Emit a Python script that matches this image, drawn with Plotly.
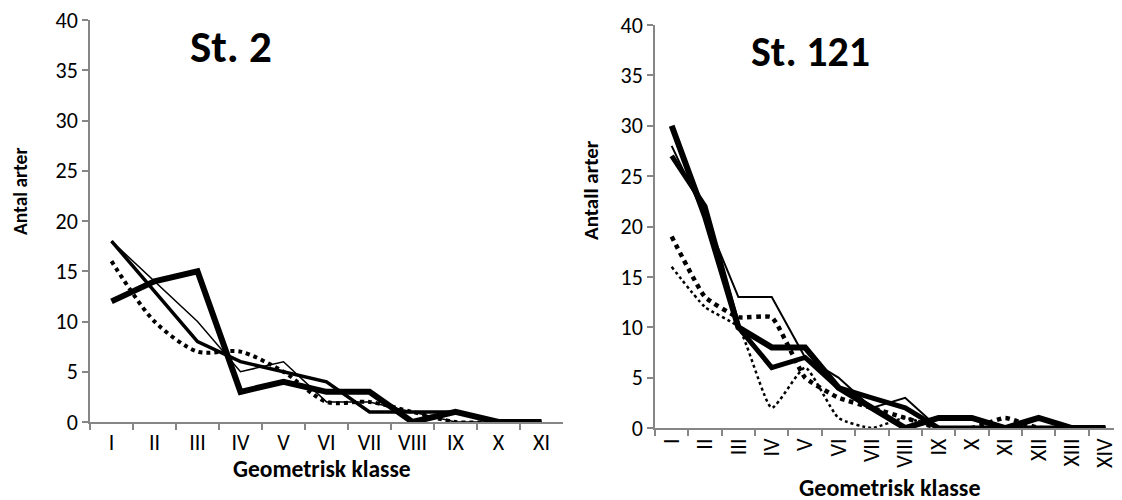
import plotly.graph_objects as go

W, H = 1122, 500
OFF = 8  # page body margin offset (screen px -> figure px)

# ---- data ----
cats_left = ["I", "II", "III", "IV", "V", "VI", "VII", "VIII", "IX", "X", "XI"]
left_thick = [12, 14, 15, 3, 4, 3, 3, 0, 1, 0, 0]
left_medium = [18, 13, 8, 6, 5, 4, 1, 1, 1, 0, 0]
left_thin = [18, 14, 10, 5, 6, 2, 2, 1, 0, 0, 0]
left_dotted = [16, 10, 7, 7, 5, 2, 2, 1, 0, 0, 0]

cats_right = ["I", "II", "III", "IV", "V", "VI", "VII", "VIII", "IX", "X", "XI", "XII", "XIII", "XIV"]
right_thick_a = [30, 21, 10, 8, 8, 4, 2, 0, 1, 1, 0, 1, 0, 0]
right_thick_b = [27, 22, 10, 6, 7, 4, 3, 2, 0, 0, 0, 0, 0, 0]
right_thin = [28, 21, 13, 13, 7, 5, 2, 3, 0, 0, 0, 1, 0, 0]
right_dotted_big = [19, 13, 11, 11, 5, 3, 2, 1, 0, 0, 1, 0, 0, 0]
right_dotted_small = [16, 12, 10, 2, 6, 1, 0, 1, 0, 0, 0, 0, 0, 0]

FONT = "Carlito, Calibri, Lato, 'Liberation Sans', sans-serif"
AX = "#868686"

fig = go.Figure()

def add(x, y, width, dash="solid", shape="linear", smooth=1.0, xa="x", ya="y"):
    line = dict(color="black", width=width, dash=dash, shape=shape)
    if shape == "spline":
        line["smoothing"] = smooth
    fig.add_trace(go.Scatter(x=x, y=y, mode="lines", xaxis=xa, yaxis=ya,
                             line=line, showlegend=False, hoverinfo="skip"))

add(cats_left, left_dotted, 4, "dot", "spline", 0.8)
add(cats_left, left_thin, 1.5)
add(cats_left, left_medium, 3.5)
add(cats_left, left_thick, 6)

add(cats_right, right_dotted_small, 2.5, "dot", "spline", 0.5, "x2", "y2")
add(cats_right, right_dotted_big, 4.5, "dot", "spline", 0.4, "x2", "y2")
add(cats_right, right_thin, 2, xa="x2", ya="y2")
add(cats_right, right_thick_b, 5, xa="x2", ya="y2")
add(cats_right, right_thick_a, 6, xa="x2", ya="y2")

def sx(px):
    return (px - OFF) / W

def sy(px):
    return 1 - (px - OFF) / H

def xaxis(dom, cats, angle):
    return dict(domain=dom, type="category", categoryorder="array", categoryarray=cats,
                range=[-0.5, len(cats) - 0.5], showline=True, linecolor=AX, linewidth=1.5,
                ticks="outside", tickson="boundaries", ticklen=6, tickcolor=AX, tickwidth=1.5,
                showgrid=False, zeroline=False, tickangle=angle, automargin=False,
                ticklabeloverflow="allow",
                tickfont=dict(family=FONT, size=22, color="black"))

def yaxis(dom, anchor):
    return dict(domain=dom, anchor=anchor, range=[0, 40], dtick=5, showline=True, linecolor=AX,
                linewidth=1.5, ticks="outside", ticklen=6, tickcolor=AX, tickwidth=1.5,
                showgrid=False, zeroline=False, automargin=False,
                ticklabeloverflow="allow",
                tickfont=dict(family=FONT, size=22, color="black"))

fig.update_layout(
    template="none",
    width=W, height=H, margin=dict(l=0, r=0, t=0, b=0, autoexpand=False),
    plot_bgcolor="white", paper_bgcolor="white",
    xaxis=dict(xaxis([sx(90), sx(563)], cats_left, 0), anchor="y"),
    yaxis=yaxis([sy(422), sy(20)], "x"),
    xaxis2=dict(xaxis([sx(655), sx(1122)], cats_right, -90), anchor="y2"),
    yaxis2=yaxis([sy(428), sy(25)], "x2"),
)

def ann(text, x, y, size, bold=True, angle=0):
    fig.add_annotation(text=f"<b>{text}</b>" if bold else text, x=sx(x), y=sy(y),
                       xref="paper", yref="paper", showarrow=False, textangle=angle,
                       font=dict(family=FONT, size=size, color="black"),
                       xanchor="center", yanchor="middle")

ann("St. 2", 231, 47, 45)
ann("St. 121", 810, 52, 42)
ann("Antal arter", 20, 192, 19.5, angle=-90)
ann("Antall arter", 591, 190, 21, angle=-90)
ann("Geometrisk klasse", 322, 469, 23.5)
ann("Geometrisk klasse", 889, 487, 24)

fig.write_html("out.html")
